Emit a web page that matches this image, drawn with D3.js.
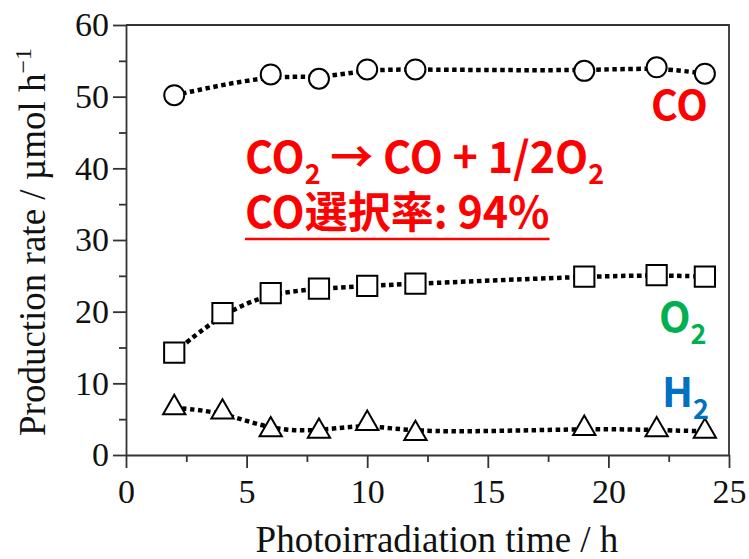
<!DOCTYPE html>
<html>
<head>
  <meta charset="utf-8">
  <script src="https://cdn.jsdelivr.net/npm/d3@7"></script>
  <style>
    body { margin: 0; background: #fff; }
    .tick text { font-family: "Liberation Serif", "DejaVu Serif", serif; }
    .note { font-family: "Noto Sans CJK JP", "Noto Sans", sans-serif; font-weight: bold; }
  </style>
</head>
<body>
  <div id="chart"></div>
  <script>
    // production rate (µmol h^-1) vs photoirradiation time (h)
    const timesCO = [2, 6, 8, 10, 12, 19, 22, 24];
    const coRate = [50.2, 53.1, 52.5, 53.8, 53.8, 53.6, 54.1, 53.2];
    const timesGas = [2, 4, 6, 8, 10, 12, 19, 22, 24];
    const o2Rate = [14.3, 19.8, 22.6, 23.2, 23.6, 23.9, 24.9, 25.1, 24.9];
    const h2Rate = [6.6, 6.0, 3.5, 3.3, 4.4, 3.0, 3.7, 3.5, 3.3];
    const xTicks = [0, 5, 10, 15, 20, 25];
    const yTicks = [0, 10, 20, 30, 40, 50, 60];

    const width = 749, height = 559;
    const svg = d3.select("#chart").append("svg")
      .attr("width", width)
      .attr("height", height);

    const x = d3.scaleLinear().domain([0, 25]).range([126, 729]);
    const y = d3.scaleLinear().domain([0, 60]).range([455, 25]);
    const axisColor = "#333";

    // minor ticks
    svg.append("g")
      .attr("transform", "translate(0,455)")
      .call(d3.axisBottom(x).tickValues(d3.range(2.5, 25, 5)).tickSize(7).tickFormat(""))
      .call(g => g.select(".domain").remove());
    svg.append("g")
      .attr("transform", "translate(126,0)")
      .call(d3.axisLeft(y).tickValues(d3.range(5, 60, 10)).tickSize(7).tickFormat(""))
      .call(g => g.select(".domain").remove());

    const xAxis = svg.append("g")
      .attr("transform", "translate(0,455)")
      .call(d3.axisBottom(x).tickValues(xTicks).tickSize(13).tickSizeOuter(0).tickPadding(6));
    const yAxis = svg.append("g")
      .attr("transform", "translate(126,0)")
      .call(d3.axisLeft(y).tickValues(yTicks).tickSize(13).tickSizeOuter(0).tickPadding(4));

    svg.selectAll(".tick line").attr("stroke", axisColor).attr("stroke-width", 1.8);
    svg.selectAll(".domain").attr("stroke", axisColor).attr("stroke-width", 1.8);
    svg.selectAll(".tick text").attr("font-size", 34).attr("fill", "#111");
    xAxis.selectAll(".tick text").attr("dy", "0.85em");

    // frame top and right
    svg.append("path")
      .attr("d", `M${x(0)},${y(60)}H${x(25)}V${y(0)}`)
      .attr("fill", "none")
      .attr("stroke", axisColor)
      .attr("stroke-width", 1.8);

    // axis titles
    svg.append("text")
      .attr("x", 437).attr("y", 552)
      .attr("text-anchor", "middle")
      .attr("font-family", "Liberation Serif, serif")
      .attr("font-size", 37)
      .attr("fill", "#111")
      .text("Photoirradiation time / h");

    const yt = svg.append("text")
      .attr("transform", "rotate(-90)")
      .attr("x", -242).attr("y", 45)
      .attr("text-anchor", "middle")
      .attr("font-family", "Liberation Serif, serif")
      .attr("font-size", 37)
      .attr("fill", "#111");
    yt.append("tspan").text("Production rate / µmol h");
    yt.append("tspan").attr("dy", -14).attr("font-size", 24).text("−1");

    // dotted smoothed curves and markers
    const line = d3.line()
      .x(d => x(d[0]))
      .y(d => y(d[1]))
      .curve(d3.curveBasis);

    const series = [
      { t: timesCO, v: coRate, sym: d3.symbolCircle, size: 314 },
      { t: timesGas, v: o2Rate, sym: d3.symbolSquare, size: 410 },
      { t: timesGas, v: h2Rate, sym: d3.symbolTriangle, size: 215 }
    ];

    series.forEach(s => {
      const pts = s.t.map((t, i) => [t, s.v[i]]);
      svg.append("path")
        .datum(pts)
        .attr("d", line)
        .attr("fill", "none")
        .attr("stroke", "#000")
        .attr("stroke-width", 4.5)
        .attr("stroke-dasharray", "4.5 3.5");
      svg.append("g")
        .selectAll("path")
        .data(pts)
        .join("path")
        .attr("transform", d => `translate(${x(d[0])},${y(d[1])})`)
        .attr("d", d3.symbol().type(s.sym).size(s.size))
        .attr("fill", "#fff")
        .attr("stroke", "#000")
        .attr("stroke-width", 2);
    });

    // annotations
    const red = "#ff0000";
    function label(xp, yp, main, sub, color, size) {
      const t = svg.append("text").attr("class", "note")
        .attr("x", xp).attr("y", yp)
        .attr("font-size", size).attr("fill", color);
      t.append("tspan").text(main);
      if (sub) t.append("tspan").attr("dy", 12).attr("font-size", size * 0.66).text(sub);
      return t;
    }
    label(651, 120, "CO", null, red, 41);
    label(659, 332, "O", "2", "#00b050", 41);
    label(662, 407, "H", "2", "#0070c0", 41);

    const eq = svg.append("text").attr("class", "note")
      .attr("x", 245).attr("y", 173)
      .attr("font-size", 43).attr("fill", red);
    eq.append("tspan").text("CO");
    eq.append("tspan").attr("dy", 11).attr("font-size", 27).text("2");
    eq.append("tspan").attr("dy", -11).text(" → CO + 1/2O");
    eq.append("tspan").attr("dy", 11).attr("font-size", 27).text("2");

    const sel = svg.append("text").attr("class", "note")
      .attr("x", 245).attr("y", 228)
      .attr("font-size", 43).attr("fill", red)
      .text("CO選択率: 94%");
    const sw = sel.node().getComputedTextLength();
    svg.append("line")
      .attr("x1", 245).attr("x2", 245 + sw)
      .attr("y1", 239).attr("y2", 239)
      .attr("stroke", red).attr("stroke-width", 2.5);
  </script>
</body>
</html>
